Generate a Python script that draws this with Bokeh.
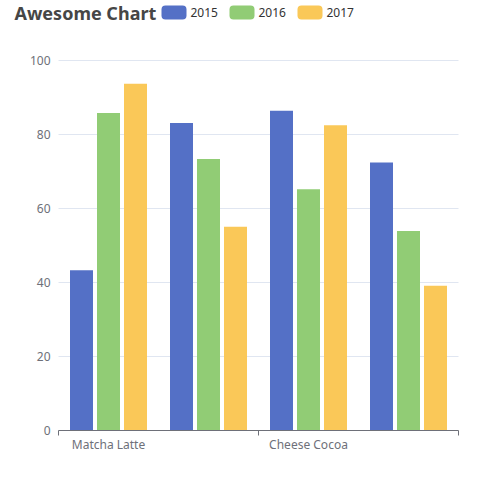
import numpy as np
from bokeh.plotting import figure
from bokeh.models import (ColumnDataSource, Range1d, FixedTicker, LinearAxis,
                          Label, BoxAnnotation)
from bokeh.embed import file_html
from bokeh.resources import INLINE

# données
categories = ["Matcha Latte", "Milk Tea", "Cheese Cocoa", "Walnut Brownie"]
years = ["2015", "2016", "2017"]
v2015 = [43.3, 83.1, 86.4, 72.4]
v2016 = [85.8, 73.4, 65.2, 53.9]
v2017 = [93.7, 55.1, 82.5, 39.1]
y_ticks = [0, 20, 40, 60, 80, 100]

colors = ["#5470c6", "#91cc75", "#fac858"]
offsets = [-0.27, 0.0, 0.27]
FONT = "Noto Sans"

# le cadre couvre toute la page : 100 px par catégorie, 3.7 px par unité
W, H = 492, 492
x0_px, y0_px = 58, 430
p = figure(frame_width=W, frame_height=H, min_border=0,
           x_range=Range1d(-x0_px / 100, (W - x0_px) / 100),
           y_range=Range1d(-(H - y0_px) / 3.7, y0_px / 3.7),
           x_axis_type=None, y_axis_type=None,
           output_backend="svg", toolbar_location=None)
p.outline_line_color = None
p.background_fill_color = "white"
p.border_fill_color = "white"
p.xgrid.visible = False
p.ygrid.visible = False

## lignes de grille (entre 0 et la dernière catégorie seulement)
p.segment(x0=0, x1=len(categories), y0=y_ticks[1:], y1=y_ticks[1:],
          line_color="#e0e6f1", line_width=1)

## barres
centers = np.arange(len(categories)) + 0.5
for vals, c, off in zip([v2015, v2016, v2017], colors, offsets):
    src = ColumnDataSource(dict(x=centers + off, top=vals))
    p.vbar(x='x', top='top', bottom=0, width=0.23, source=src,
           fill_color=c, line_color=None)

## axes (placés dans le cadre)
yaxis = LinearAxis(ticker=FixedTicker(ticks=y_ticks), fixed_location=0)
yaxis.axis_line_color = None
yaxis.major_tick_line_color = None
yaxis.minor_tick_line_color = None
yaxis.major_tick_out = 0
yaxis.major_tick_in = 0
yaxis.major_label_standoff = 8
yaxis.major_label_text_color = "#6e7079"
yaxis.major_label_text_font = FONT
yaxis.major_label_text_font_size = "12px"
p.add_layout(yaxis, "left")

xaxis = LinearAxis(ticker=FixedTicker(ticks=[0.5, 2.5], minor_ticks=[0, 2, 4]),
                   fixed_location=0, bounds=(0, len(categories)))
xaxis.major_label_overrides = {0.5: categories[0], 2.5: categories[2]}
xaxis.axis_line_color = "#6e7079"
xaxis.major_tick_line_color = None
xaxis.major_tick_out = 0
xaxis.major_tick_in = 0
xaxis.minor_tick_line_color = "#6e7079"
xaxis.minor_tick_in = 0
xaxis.minor_tick_out = 5
xaxis.major_label_standoff = 0
xaxis.major_label_text_color = "#6e7079"
xaxis.major_label_text_font = FONT
xaxis.major_label_text_font_size = "12px"
p.add_layout(xaxis, "below")

## titre
p.add_layout(Label(x=14, y=H - 12.5, x_units="screen", y_units="screen",
                   text="Awesome Chart", text_font=FONT, text_font_style="bold",
                   text_font_size="18px", text_color="#464646",
                   text_baseline="middle"))

## légende : pastilles arrondies + libellés
leg_x = [161, 229, 297]
for yr, c, lx in zip(years, colors, leg_x):
    p.add_layout(BoxAnnotation(left=lx, right=lx + 25, bottom=H - 19, top=H - 5,
                               left_units="screen", right_units="screen",
                               bottom_units="screen", top_units="screen",
                               fill_color=c, fill_alpha=1, line_color=None,
                               border_radius=4, editable=False))
    p.add_layout(Label(x=lx + 29, y=H - 12, x_units="screen", y_units="screen",
                       text=yr, text_font=FONT, text_font_size="12px",
                       text_color="#333333", text_baseline="middle"))

open("out.html", "w").write(file_html(p, INLINE))
